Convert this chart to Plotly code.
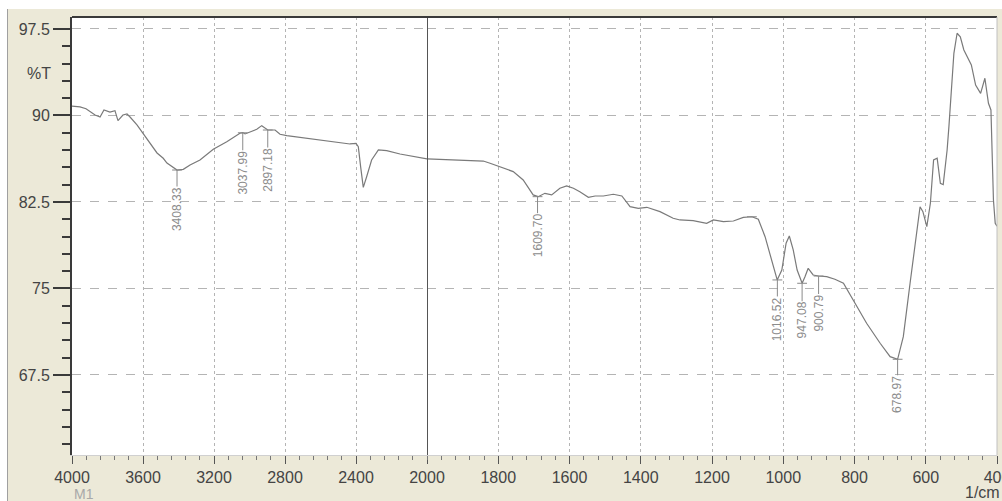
import plotly.graph_objects as go

# ---- data ----
wavenumber = [4000, 3955, 3921, 3899, 3870, 3842, 3820, 3786, 3758, 3741, 3713, 3690, 3673, 3634, 3600,
              3561, 3521, 3486, 3465, 3408, 3373, 3335, 3279, 3204, 3128, 3054, 3038, 3025, 2997, 2959,
              2931, 2913, 2897, 2856, 2828, 2790, 2715, 2621, 2528, 2434, 2400, 2387, 2374, 2359, 2340,
              2312, 2274, 2227, 2152, 2058, 2000,
              1935, 1842, 1823, 1795, 1758, 1730, 1702, 1688, 1669, 1650, 1627, 1608, 1589, 1571, 1547,
              1528, 1505, 1477, 1453, 1430, 1407, 1383, 1346, 1309, 1290, 1253, 1215, 1196, 1168, 1140,
              1112, 1088, 1070, 1051, 1032, 1017, 1004, 992, 983, 972, 961, 947, 939, 930, 916, 901, 878,
              855, 831, 803, 766, 728, 700, 679, 663, 644, 630, 616, 608, 597, 587, 578, 568, 559, 551,
              540, 535, 521, 512, 503, 493, 479, 472, 460, 446, 434, 424, 417, 410, 405, 400]
transmittance = [90.82, 90.74, 90.59, 90.33, 90.04, 89.87, 90.48, 90.30, 90.42, 89.55, 90.04, 90.13, 89.87, 89.18, 88.48,
                 87.59, 86.75, 86.29, 85.88, 85.27, 85.33, 85.71, 86.14, 87.07, 87.73, 88.46, 88.52, 88.40, 88.59, 88.80,
                 89.12, 88.89, 88.74, 88.74, 88.37, 88.25, 88.11, 87.94, 87.73, 87.53, 87.59, 87.29, 85.56, 83.77, 84.69,
                 86.14, 87.01, 86.95, 86.66, 86.38, 86.23,
                 86.14, 86.05, 85.86, 85.56, 85.13, 84.41, 83.11, 82.96, 83.25, 83.11, 83.69, 83.89, 83.69, 83.39, 82.91,
                 83.02, 83.02, 83.17, 83.02, 82.09, 81.95, 82.04, 81.66, 81.09, 80.94, 80.88, 80.65, 80.94, 80.79, 80.85,
                 81.17, 81.22, 81.00, 79.49, 77.47, 75.74, 76.60, 78.92, 79.55, 78.34, 76.60, 75.45, 76.02, 76.75, 76.17, 76.08, 76.02,
                 75.80, 75.45, 74.00, 71.98, 70.25, 69.09, 68.86, 70.82, 75.45, 78.92, 82.09, 81.66, 80.36, 82.39, 86.14, 86.29, 84.12, 84.00,
                 87.01, 89.03, 95.39, 97.13, 96.83, 95.68, 94.81, 94.38, 92.64, 91.92, 93.23, 91.06, 90.48, 82.67, 80.65, 80.40]

peak_pos = [3408.33, 3037.99, 2897.18, 1689.70, 1016.52, 947.08, 900.79, 678.97]
peak_val = [85.27, 88.50, 88.74, 82.96, 75.74, 75.45, 76.08, 68.86]
peak_text = ["3408.33", "3037.99", "2897.18", "1609.70", "1016.52", "947.08", "900.79", "678.97"]
peak_offset = [39, 40, 40, 39, 39, 37, 37, 35]
extra_mark_pos = [1088]
extra_mark_val = [81.22]

x1_ticks = [4000, 3600, 3200, 2800, 2400, 2000]
x2_ticks = [1800, 1600, 1400, 1200, 1000, 800, 600, 400]

BEIGE = "#ECE9D8"
FONT = "Liberation Sans, Arial, sans-serif"
LINE = "#7a7a7a"
GRID = "#b4b4b4"

W, H = 1002, 501
ML, MR, MT, MB = 72, 5, 17, 46
PW, PH = W - ML - MR, H - MT - MB

left = [(w, t) for w, t in zip(wavenumber, transmittance) if w >= 2000]
right = [(w, t) for w, t in zip(wavenumber, transmittance) if w <= 2000]

fig = go.Figure()
fig.add_trace(go.Scatter(x=[p[0] for p in left], y=[p[1] for p in left], mode="lines",
                         line=dict(color=LINE, width=1.2), xaxis="x", yaxis="y", showlegend=False))
fig.add_trace(go.Scatter(x=[p[0] for p in right], y=[p[1] for p in right], mode="lines",
                         line=dict(color=LINE, width=1.2), xaxis="x2", yaxis="y2", showlegend=False))

# peak markers
for axis in ("x", "x2"):
    xs, ys = [], []
    for p, v in zip(peak_pos + extra_mark_pos, peak_val + extra_mark_val):
        if (axis == "x" and p >= 2000) or (axis == "x2" and p < 2000):
            xs.append(p); ys.append(v)
    fig.add_trace(go.Scatter(x=xs, y=ys, mode="markers", xaxis=axis, yaxis="y" if axis == "x" else "y2",
                             marker=dict(symbol="line-ew", size=7, line=dict(color="#888888", width=1)),
                             showlegend=False, hoverinfo="skip"))

annotations = []
for p, v, t, off in zip(peak_pos, peak_val, peak_text, peak_offset):
    ax = "x" if p >= 2000 else "x2"
    annotations.append(dict(x=p, y=v, xref=ax, yref="y" if ax == "x" else "y2", text=t, textangle=-90,
                            showarrow=True, arrowhead=0, arrowwidth=1, arrowcolor="#8a8a8a", ax=0, ay=off,
                            font=dict(family=FONT, size=12, color="#8c8c8c"), borderpad=0))

annotations.append(dict(x=-19 / PW, y=93.6, xref="paper", yref="y", text="%T", showarrow=False,
                        xanchor="right", yanchor="middle", font=dict(family=FONT, size=16, color="#444444")))
annotations.append(dict(x=0, y=-39 / PH, xref="paper", yref="paper", text="M1", showarrow=False,
                        xanchor="left", yanchor="middle", font=dict(family=FONT, size=14, color="#a8a8a8")))
annotations.append(dict(x=(PW + 5) / PW, y=-37 / PH, xref="paper", yref="paper", text="1/cm", showarrow=False,
                        xanchor="right", yanchor="middle", font=dict(family=FONT, size=16, color="#444444")))

split = 355 / PW
yrange = [60.56, 98.54]

common_x = dict(showgrid=True, gridcolor=GRID, griddash="dot", gridwidth=1, zeroline=False,
                showline=True, linecolor="#d0d0d0", linewidth=1, ticks="outside", ticklen=8,
                tickcolor="#555555", tickwidth=1, tickfont=dict(family=FONT, size=16, color="#444444"),
                tickmode="array", automargin=False, ticklabeloverflow="allow")

fig.update_layout(
    width=W, height=H, autosize=False,
    margin=dict(l=ML, r=MR, t=MT, b=MB, autoexpand=False),
    paper_bgcolor=BEIGE, plot_bgcolor="white",
    xaxis=dict(**common_x, domain=[0, split],
               range=[4000, 2000], tickvals=x1_ticks, ticktext=[str(v) for v in x1_ticks],
               anchor="y",
               minor=dict(tick0=4000, dtick=80, ticks="outside", ticklen=4, tickcolor="#777777", showgrid=False)),
    xaxis2=dict(**common_x, domain=[split, 1],
                range=[2000, 400], tickvals=x2_ticks, ticktext=[str(v) for v in x2_ticks],
                anchor="y2",
                minor=dict(tick0=2000, dtick=40, ticks="outside", ticklen=4, tickcolor="#777777", showgrid=False)),
    yaxis=dict(range=yrange, tick0=67.5, dtick=7.5, showgrid=True, gridcolor=GRID, griddash="dash",
               zeroline=False, showline=True, linecolor="#3a3a3a", linewidth=2, ticks="outside", ticklen=17,
               tickcolor="#3a3a3a", tickwidth=1.5, tickfont=dict(family=FONT, size=16, color="#444444"),
               minor=dict(tick0=67.5, dtick=1.5, ticks="outside", ticklen=8, tickcolor="#3a3a3a", showgrid=False),
               anchor="x", automargin=False),
    yaxis2=dict(range=yrange, tick0=67.5, dtick=7.5, showgrid=True, gridcolor=GRID, griddash="dash",
                zeroline=False, showticklabels=False, ticks="", anchor="x2", matches="y", automargin=False),
    annotations=annotations,
    shapes=[
        # break line at 2000
        dict(type="line", xref="x2", yref="paper", x0=2000, x1=2000, y0=0, y1=1,
             line=dict(color="#555555", width=2)),
        # top border
        dict(type="line", xref="paper", yref="paper", x0=0, x1=1, y0=1, y1=1,
             line=dict(color="#3a3a3a", width=2)),
        # right border
        dict(type="line", xref="paper", yref="paper", x0=1, x1=1, y0=0, y1=1,
             line=dict(color="#c0c0c0", width=1)),
        # white strips of the outer frame
        dict(type="rect", xref="paper", yref="paper", x0=-ML / PW, x1=(7 - ML) / PW,
             y0=-MB / PH - 0.05, y1=(PH + MT) / PH + 0.05, fillcolor="white", line=dict(width=0)),
        dict(type="rect", xref="paper", yref="paper", x0=-ML / PW, x1=(W - ML) / PW,
             y0=(PH + MT - 9) / PH, y1=(PH + MT) / PH + 0.05, fillcolor="white", line=dict(width=0)),
        dict(type="line", xref="paper", yref="paper", x0=(7.5 - ML) / PW, x1=(7.5 - ML) / PW,
             y0=-MB / PH, y1=(PH + MT - 9) / PH, line=dict(color="#a0a0a0", width=1)),
    ],
)

page_fix = ("document.body.style.margin='0';document.body.style.overflow='hidden';"
            "document.documentElement.style.overflow='hidden';")
fig.write_html("out.html", post_script=page_fix, config={"displayModeBar": False})
